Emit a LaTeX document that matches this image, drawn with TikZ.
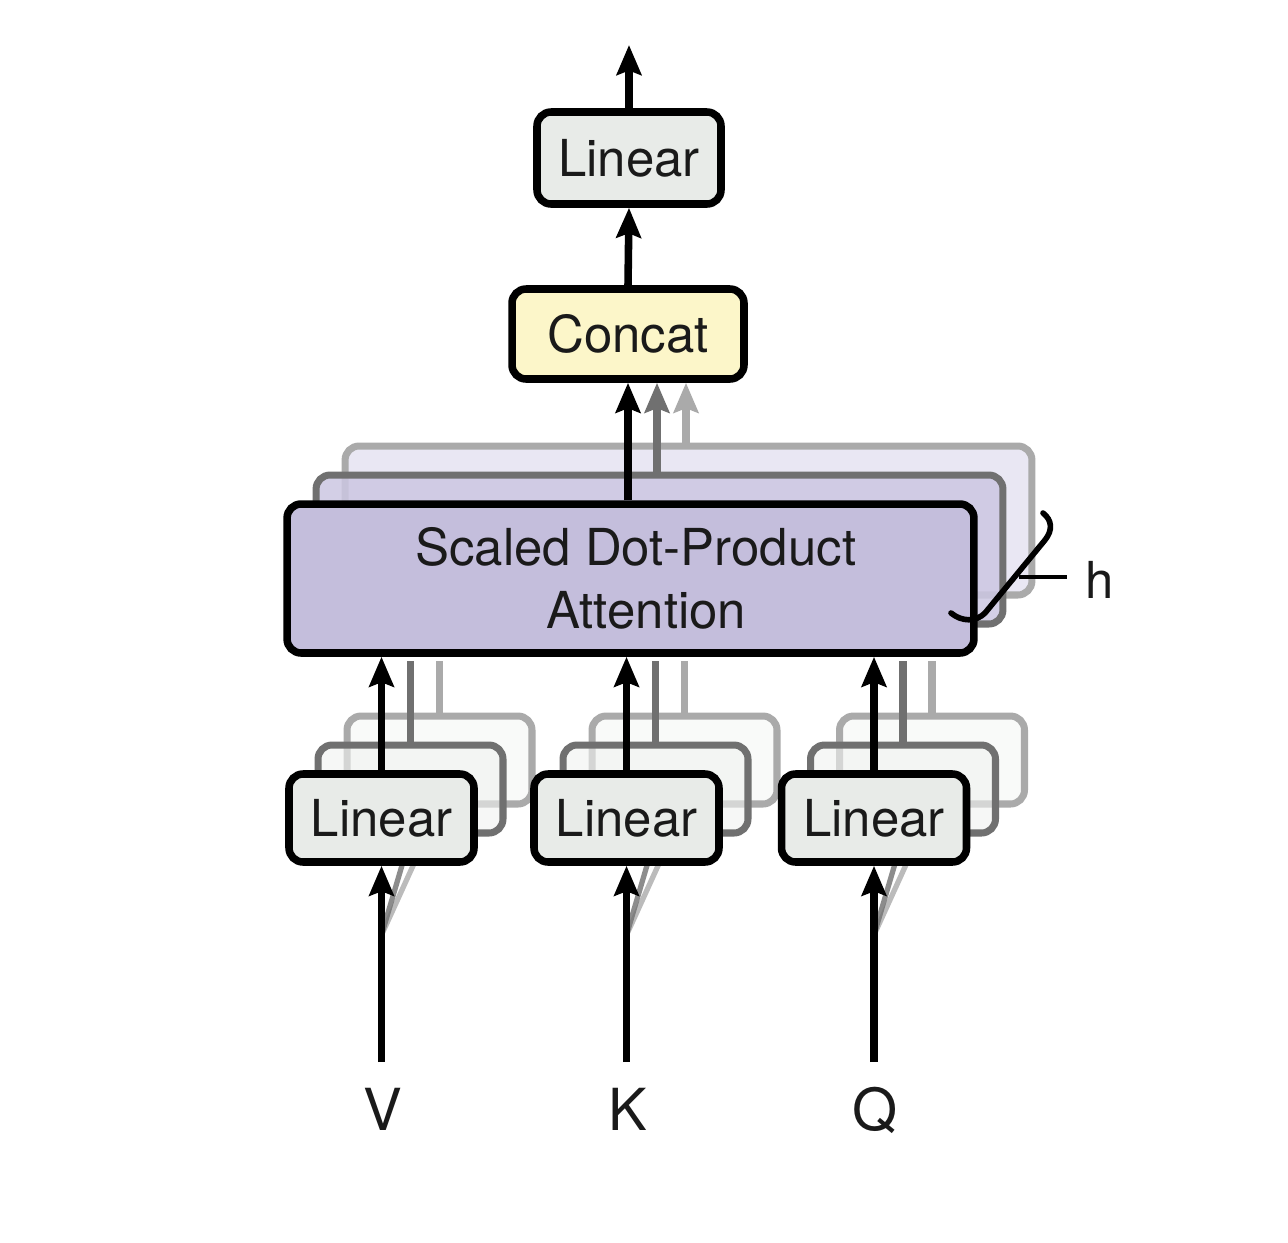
\documentclass[tikz,border=0pt]{standalone}
\usepackage{fontspec}
\setmainfont{TeX Gyre Heros}
\usetikzlibrary{arrows.meta,calc}
\definecolor{linfill}{RGB}{232,235,232}
\definecolor{linfillB}{RGB}{240,242,240}
\definecolor{linfillC}{RGB}{246,247,246}
\definecolor{catfill}{RGB}{252,246,201}
\definecolor{attfill}{RGB}{196,190,220}
\definecolor{attfillB}{RGB}{204,199,226}
\definecolor{attfillC}{RGB}{228,226,240}
\definecolor{darkg}{RGB}{112,112,112}
\definecolor{lightg}{RGB}{170,170,170}
\definecolor{txt}{RGB}{26,26,26}
\begin{document}
\begin{tikzpicture}[x=0.02cm,y=-0.02cm,
  box/.style={draw=black, line width=4.3pt, rounded corners=8pt, inner sep=0pt,
    text=txt, font=\fontsize{29}{35.7}\selectfont},
  linbox/.style={box, fill=linfill, minimum width=3.70cm, minimum height=1.76cm},
  linbackA/.style={draw=darkg, line width=4pt, rounded corners=8pt, fill=linfillB,
    fill opacity=0.6, minimum width=3.70cm, minimum height=1.76cm},
  linbackB/.style={draw=lightg, line width=4pt, rounded corners=8pt, fill=linfillC,
    fill opacity=0.6, minimum width=3.70cm, minimum height=1.76cm},
  attbox/.style={box, fill=attfill, minimum width=13.74cm, minimum height=2.98cm},
  attbackA/.style={draw=darkg, line width=4pt, rounded corners=8pt, fill=attfillB,
    fill opacity=0.85, minimum width=13.74cm, minimum height=2.98cm},
  attbackB/.style={draw=lightg, line width=4pt, rounded corners=8pt, fill=attfillC,
    fill opacity=0.8, minimum width=13.74cm, minimum height=2.98cm},
  arr/.style={line width=4.3pt, -{Stealth[length=17pt,width=14pt,inset=2.5pt]}},
  garr/.style={arr, draw=darkg, fill=darkg},
  lgarr/.style={arr, draw=lightg, fill=lightg},
  gline/.style={line width=4.3pt, draw=darkg, shorten >=2.2pt},
  lgline/.style={line width=4.3pt, draw=lightg, shorten >=2.2pt},
  fanA/.style={line width=3pt, draw=darkg, draw opacity=0.8},
  fanB/.style={line width=3pt, draw=lightg, draw opacity=0.8},
  lbl/.style={text=txt, font=\fontsize{33}{40}\selectfont, inner sep=0pt, anchor=base},
  hlbl/.style={text=txt, font=\fontsize{29}{35}\selectfont, inner sep=0pt, anchor=base west},
]
\fill[white] (0,0) rectangle (1288,1242);
\useasboundingbox (0,0) rectangle (1288,1242);

% top part
\node[box, fill=linfill, minimum width=3.68cm, minimum height=1.84cm] (lintop) at (629,158) {Linear};
\coordinate (out) at (629,45);
\draw[arr] (lintop.north) -- (out);
\node[box, fill=catfill, minimum width=4.64cm, minimum height=1.80cm] (concat) at (628,334) {Concat};
\draw[arr] (concat.north) -- (lintop.south);

% attention stack
\node[attbackB] (att3) at (688.5,520.5) {};
\coordinate (c3) at ($(concat.south)+(58,0)$);
\draw[lgarr] (c3 |- att3.north) -- (c3);
\node[attbackA] (att2) at (659.5,549.5) {};
\coordinate (c2) at ($(concat.south)+(29,0)$);
\draw[garr] (c2 |- att2.north) -- (c2);
\node[attbox, align=center] (att) at (630.5,578.5) {\hspace*{6pt}Scaled Dot-Product\\\hspace*{18pt}Attention};
\draw[arr] (concat.south |- att.north) -- (concat.south);

% h brace
\draw[line width=3.2pt, line cap=round] (951,613) .. controls (962,622) and (976,622) .. (985,613)
  -- (1045,540) .. controls (1053,530) and (1052,520) .. (1043,513);
\coordinate (hmid) at (1019,577);
\node[hlbl] (h) at (1085,598) {h};
\draw[line width=2.2pt] (hmid) -- (1067,577);

% linear stacks
\foreach \n/\x in {V/381.5,K/626.5,Q/874}{
  \node[linbackB] (lin\n3) at (\x+58,760) {};
  \node[linbackA] (lin\n2) at (\x+29,789) {};
  \coordinate (fan\n) at (\x,935);
  \draw[fanB] (fan\n) -- (lin\n3.south);
  \draw[fanA] (fan\n) -- (lin\n2.south);
  \draw[lgline] (lin\n3.north) -- (lin\n3.north |- att.south);
  \draw[gline] (lin\n2.north) -- (lin\n2.north |- att.south);
  \node[linbox] (lin\n) at (\x,818) {Linear};
  \draw[arr] (lin\n.north) -- (lin\n.north |- att.south);
  \coordinate (in\n) at (\x,1062);
  \draw[arr] (in\n) -- (lin\n.south);
  \node[lbl] (lab\n) at (\x+1,1130) {\n};
}
\end{tikzpicture}
\end{document}
